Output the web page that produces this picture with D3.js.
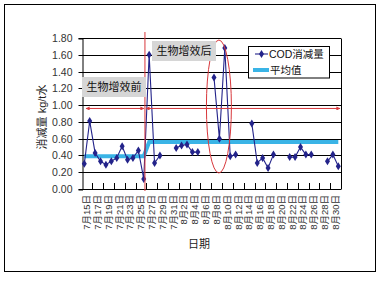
<!DOCTYPE html>
<html>
<head>
<meta charset="utf-8">
<script src="https://cdn.jsdelivr.net/npm/d3@7"></script>
<style>
  html, body { margin: 0; padding: 0; background: #fff; }
  svg { display: block; }
  text { font-family: "Liberation Sans", Arial, "Noto Sans CJK SC", sans-serif; }
</style>
</head>
<body>
<svg id="chart" width="382" height="282"></svg>
<script>
// Daily categories, 7/15 – 8/31
const dates = [
  "7月15日","7月16日","7月17日","7月18日","7月19日","7月20日","7月21日","7月22日",
  "7月23日","7月24日","7月25日","7月26日","7月27日","7月28日","7月29日","7月30日",
  "7月31日","8月1日","8月2日","8月3日","8月4日","8月5日","8月6日","8月7日",
  "8月8日","8月9日","8月10日","8月11日","8月12日","8月13日","8月14日","8月15日",
  "8月16日","8月17日","8月18日","8月19日","8月20日","8月21日","8月22日","8月23日",
  "8月24日","8月25日","8月26日","8月27日","8月28日","8月29日","8月30日","8月31日"
];
// COD reduction (kg per tonne of water); null = no measurement that day
const codValues = [
  0.30, 0.81, 0.43, 0.33, 0.29, 0.33, 0.37, 0.51,
  0.35, 0.37, 0.46, 0.12, 1.60, 0.31, 0.40, null,
  null, 0.49, 0.52, 0.53, 0.44, 0.44, null, null,
  1.33, 0.60, 1.68, 0.39, 0.41, null, null, 0.78,
  0.31, 0.37, 0.25, 0.41, null, null, 0.38, 0.38,
  0.50, 0.41, 0.41, null, null, 0.33, 0.41, 0.27
];
// Period averages (before / after bio-enhancement)
const avgValues = [
  0.39, 0.39, 0.39, 0.39, 0.39, 0.39, 0.39, 0.39,
  0.39, 0.39, 0.39, 0.39, 0.56, 0.56, 0.56, 0.56,
  0.56, 0.56, 0.56, 0.56, 0.56, 0.56, 0.56, 0.56,
  0.56, 0.56, 0.56, 0.56, 0.56, 0.56, 0.56, 0.56,
  0.56, 0.56, 0.56, 0.56, 0.56, 0.56, 0.56, 0.56,
  0.56, 0.56, 0.56, 0.56, 0.56, 0.56, 0.56, 0.56
];
const yTicks = [0, 0.2, 0.4, 0.6, 0.8, 1.0, 1.2, 1.4, 1.6, 1.8];
const seriesNames = ["COD消减量", "平均值"];
const yTitle = "消减量 kg/t水";
const xTitle = "日期";
const notes = ["生物增效前", "生物增效后"];
const markerDay = "7月27日";   // start of bio-enhancement
const arrowLevel = 0.96;
const circledDay = "8月9日";

const NAVY = "#23238a", CYAN = "#3ab4e6", RED = "#d8373b";

const svg = d3.select("#chart");
svg.append("rect").attr("width", 382).attr("height", 282).attr("fill", "#fff");
// outer chart frame
svg.append("rect").attr("x", 4.5).attr("y", 4.5).attr("width", 371).attr("height", 267)
  .attr("fill", "none").attr("stroke", "#000").attr("stroke-width", 1);

const L = 81.6, R = 341, T = 38, B = 189;
const x = d3.scaleBand().domain(dates).range([L, R]).padding(0);
const bw = x.bandwidth();
const cx = d => x(d) + bw / 2;
const y = d3.scaleLinear().domain([0, 1.8]).range([B, T]);

// gridlines
svg.append("g").selectAll("line").data(yTicks.slice(1)).join("line")
  .attr("x1", L).attr("x2", R)
  .attr("y1", d => Math.round(y(d)) + 0.5).attr("y2", d => Math.round(y(d)) + 0.5)
  .attr("stroke", "#000").attr("stroke-width", 1);
// right border of plot
svg.append("line").attr("x1", R + 0.5).attr("x2", R + 0.5).attr("y1", Math.round(y(1.8)) + 0.5).attr("y2", B + 0.5)
  .attr("stroke", "#000");

// y axis
const yAxis = d3.axisLeft(y).tickValues(yTicks).tickFormat(d3.format(".2f")).tickSize(4).tickPadding(6);
const gy = svg.append("g").attr("transform", `translate(${Math.round(L) + 0.5},0.5)`).call(yAxis);
gy.select(".domain").attr("stroke", "#000");
gy.selectAll(".tick line").attr("stroke", "#000");
gy.selectAll(".tick text").attr("font-size", "10.5px").attr("fill", "#333");
gy.selectAll(".tick").attr("transform", d => `translate(0,${Math.round(y(d))})`);

// x axis: inside ticks every two days, labels centred between ticks
const pairStarts = dates.filter((d, i) => i % 2 === 0);
const gx = svg.append("g");
gx.append("line").attr("x1", L).attr("x2", R).attr("y1", B + 0.5).attr("y2", B + 0.5).attr("stroke", "#000");
gx.selectAll("line.tk").data(pairStarts.slice(1)).join("line").attr("class", "tk")
  .attr("x1", d => Math.round(x(d)) + 0.5).attr("x2", d => Math.round(x(d)) + 0.5)
  .attr("y1", B).attr("y2", B - 6).attr("stroke", "#000");
gx.selectAll("text").data(pairStarts).join("text")
  .attr("transform", d => `translate(${x(d) + bw + 3.2},${B + 6}) rotate(-90)`)
  .attr("text-anchor", "end")
  .attr("font-size", "9.5px").attr("fill", "#333")
  .text(d => d);

// axis titles
svg.append("text").attr("transform", "translate(46,117) rotate(-90)")
  .attr("text-anchor", "middle").attr("font-size", "11px").attr("fill", "#222").text(yTitle);
svg.append("text").attr("x", 199).attr("y", 248)
  .attr("text-anchor", "middle").attr("font-size", "11px").attr("fill", "#222").text(xTitle);

// average line
const idx = d3.range(dates.length);
svg.append("path")
  .attr("d", d3.line().x(i => cx(dates[i])).y(i => y(avgValues[i]))(idx))
  .attr("fill", "none").attr("stroke", CYAN).attr("stroke-width", 4);

// COD series with gaps
svg.append("path")
  .attr("d", d3.line().defined(i => codValues[i] != null).x(i => cx(dates[i])).y(i => y(codValues[i]))(idx))
  .attr("fill", "none").attr("stroke", NAVY).attr("stroke-width", 1.1);
const diamond = (px, py) => `M${px},${py - 4}L${px + 2.5},${py}L${px},${py + 4}L${px - 2.5},${py}Z`;
svg.append("g").selectAll("path").data(idx.filter(i => codValues[i] != null)).join("path")
  .attr("d", i => diamond(cx(dates[i]), y(codValues[i])))
  .attr("fill", NAVY);

// annotations
const defs = svg.append("defs");
["s", "e"].forEach(k => {
  defs.append("marker").attr("id", "ah-" + k).attr("viewBox", "0 0 10 10")
    .attr("refX", 9).attr("refY", 5).attr("markerWidth", 5).attr("markerHeight", 4)
    .attr("orient", k === "e" ? "auto" : "auto-start-reverse")
    .append("path").attr("d", "M0,0L10,5L0,10Z").attr("fill", RED);
});
const vx = x(markerDay) - 1.5;
svg.append("line").attr("x1", vx).attr("x2", vx).attr("y1", 32).attr("y2", 191)
  .attr("stroke", RED).attr("stroke-width", 1);
const ay = y(arrowLevel);
[[86, vx - 1], [vx + 1, 340]].forEach(([a, b]) => {
  svg.append("line").attr("x1", a).attr("x2", b).attr("y1", ay).attr("y2", ay)
    .attr("stroke", RED).attr("stroke-width", 1)
    .attr("marker-start", "url(#ah-s)").attr("marker-end", "url(#ah-e)");
});
svg.append("ellipse").attr("cx", cx(circledDay) - 0.5).attr("cy", 106.5).attr("rx", 12.5).attr("ry", 66.5)
  .attr("fill", "none").attr("stroke", RED).attr("stroke-width", 1);

// note boxes
const boxes = [[82, 77, 64, 20, notes[0]], [152, 41, 64, 20, notes[1]]];
boxes.forEach(([bx, by, w, h, t]) => {
  svg.append("rect").attr("x", bx).attr("y", by).attr("width", w).attr("height", h).attr("fill", "#d6d6d6");
  svg.append("text").attr("x", bx + w / 2).attr("y", by + h / 2 + 4)
    .attr("text-anchor", "middle").attr("font-size", "11px").attr("fill", "#111").text(t);
});

// legend
const lg = svg.append("g");
lg.append("rect").attr("x", 248.5).attr("y", 46.5).attr("width", 81).attr("height", 31.5)
  .attr("fill", "#fff").attr("stroke", "#000");
lg.append("line").attr("x1", 255).attr("x2", 268).attr("y1", 54).attr("y2", 54).attr("stroke", NAVY).attr("stroke-width", 1.1);
lg.append("path").attr("d", diamond(261.5, 54)).attr("fill", NAVY);
lg.append("text").attr("x", 269).attr("y", 58).attr("font-size", "10.5px").attr("fill", "#111").text(seriesNames[0]);
lg.append("line").attr("x1", 253).attr("x2", 269).attr("y1", 70).attr("y2", 70).attr("stroke", CYAN).attr("stroke-width", 4);
lg.append("text").attr("x", 270).attr("y", 74).attr("font-size", "10.5px").attr("fill", "#111").text(seriesNames[1]);
</script>
</body>
</html>
